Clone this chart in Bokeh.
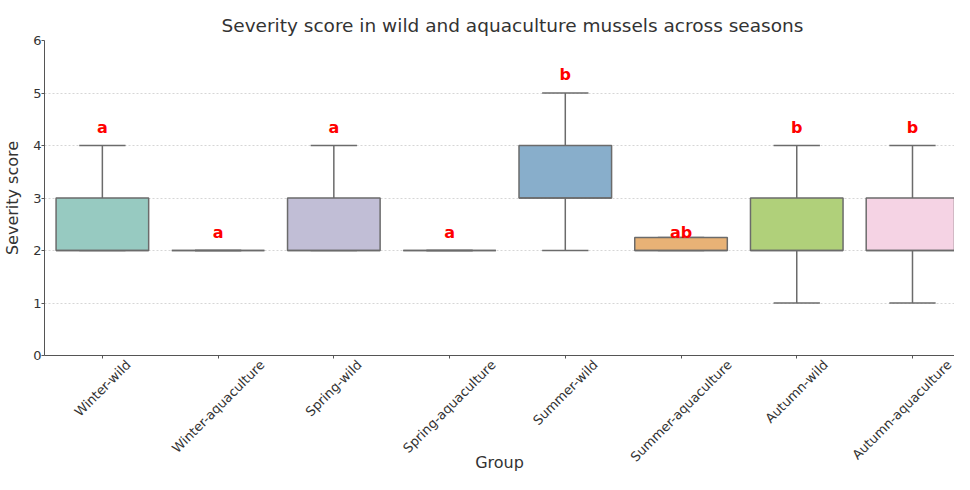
import math
from bokeh.plotting import figure
from bokeh.models import ColumnDataSource, FixedTicker, Range1d, LinearAxis
from bokeh.core.properties import value
from bokeh.embed import file_html
from bokeh.resources import INLINE

# ---- data ----
groups = ["Winter-wild", "Winter-aquaculture", "Spring-wild", "Spring-aquaculture",
          "Summer-wild", "Summer-aquaculture", "Autumn-wild", "Autumn-aquaculture"]
whisker_lo = [2, 2, 2, 2, 2, 2, 1, 1]
q1 = [2, 2, 2, 2, 3, 2, 2, 2]
median = [2, 2, 2, 2, 3, 2, 2, 2]
q3 = [3, 2, 3, 2, 4, 2.25, 3, 3]
whisker_hi = [4, 2, 4, 2, 5, 2.25, 4, 4]
letters = ["a", "a", "a", "a", "b", "ab", "b", "b"]
letter_y = [4.35, 2.35, 4.35, 2.35, 5.35, 2.35, 4.35, 4.35]
colors = ["#97cac1", "#f2f2c0", "#c1bed6", "#e58e84",
          "#88aecb", "#e8b276", "#b0d07a", "#f5d3e4"]
y_ticks = [0, 1, 2, 3, 4, 5, 6]

FONT = "DejaVu Sans"
EDGE = "#6b6b6b"
TXT = "#333333"
AX = "#555555"

# approximate DejaVu Sans advance widths (em), used to centre rotated labels on ticks
CW = {'A': .684, 'S': .635, 'W': .989, 'a': .613, 'c': .550, 'd': .635, 'e': .615,
      'g': .635, 'i': .278, 'l': .278, 'm': .974, 'n': .634, 'o': .612, 'p': .635,
      'q': .635, 'r': .411, 't': .392, 'u': .634, 'w': .818, '-': .361}
LBL_PX = 13

x = list(range(len(groups)))
box_w = 0.8
cap_w = 0.4
X_START, X_END = -0.5, 7.363
FRAME_W = 954 - 38
PX_PER_UNIT = FRAME_W / (X_END - X_START)

src = ColumnDataSource(dict(
    x=x, lo=whisker_lo, q1=q1, med=median, q3=q3, hi=whisker_hi, color=colors,
    bx0=[i - box_w / 2 for i in x], bx1=[i + box_w / 2 for i in x],
    cx0=[i - cap_w / 2 for i in x], cx1=[i + cap_w / 2 for i in x],
))

p = figure(width=954, height=474, x_range=Range1d(X_START, X_END), y_range=Range1d(0, 6),
           output_backend="svg", toolbar_location=None, x_axis_location=None,
           min_border_left=38, min_border_right=0, min_border_top=40, min_border_bottom=0,
           title="Severity score in wild and aquaculture mussels across seasons")
p.outline_line_color = None
p.background_fill_color = "white"
p.border_fill_color = "white"

p.title.text_font = FONT
p.title.text_font_size = "18.5px"
p.title.text_font_style = "normal"
p.title.text_color = TXT
p.title.align = "left"
p.title.offset = 177
p.title.standoff = 10

# grid
p.xgrid.visible = False
p.ygrid.grid_line_color = "#cccccc"
p.ygrid.grid_line_dash = "2 2"
p.ygrid.grid_line_width = 0.8

# y axis
p.yaxis.ticker = FixedTicker(ticks=y_ticks)
p.yaxis.minor_tick_line_color = None
p.yaxis.major_tick_out = 3
p.yaxis.major_tick_in = 0
p.yaxis.major_label_standoff = 0
p.yaxis.major_label_text_font = FONT
p.yaxis.major_label_text_font_size = "13px"
p.yaxis.major_label_text_color = TXT
p.yaxis.axis_line_color = AX
p.yaxis.major_tick_line_color = AX
p.yaxis.axis_label = "Severity score"
p.yaxis.axis_label_text_font = FONT
p.yaxis.axis_label_text_font_size = "16px"
p.yaxis.axis_label_text_font_style = "normal"
p.yaxis.axis_label_text_color = TXT
p.yaxis.axis_label_standoff = 8

# x axis line + ticks at each category
tick_axis = LinearAxis(ticker=FixedTicker(ticks=x),
                       major_label_overrides={i: "" for i in x},
                       major_label_text_font_size="0px", major_label_standoff=0,
                       major_tick_out=3, major_tick_in=0, minor_tick_line_color=None,
                       axis_line_color=AX, major_tick_line_color=AX)
p.add_layout(tick_axis, "below")

# rotated category labels, shifted so each rotated label is centred on its tick
def text_w(s):
    return sum(CW.get(c, 0.6) for c in s) * LBL_PX

label_pos = []
for i, g in zip(x, groups):
    pos = i + text_w(g) / (2 * math.sqrt(2)) / PX_PER_UNIT
    label_pos.append(min(pos, X_END - 0.002))

label_axis = LinearAxis(ticker=FixedTicker(ticks=label_pos),
                        major_label_overrides={pos: g for pos, g in zip(label_pos, groups)},
                        major_label_orientation=math.pi / 4,
                        major_label_standoff=4,
                        major_label_text_font=FONT, major_label_text_font_size=f"{LBL_PX}px",
                        major_label_text_color=TXT,
                        major_tick_out=0, major_tick_in=0,
                        major_tick_line_color=None, minor_tick_line_color=None,
                        axis_line_color=None,
                        axis_label="Group", axis_label_text_font=FONT,
                        axis_label_text_font_size="16px", axis_label_text_font_style="normal",
                        axis_label_text_color=TXT, axis_label_standoff=-20)
p.add_layout(label_axis, "below")

# whiskers
p.segment(x0="x", y0="q3", x1="x", y1="hi", source=src, line_color=EDGE, line_width=1.5)
p.segment(x0="x", y0="lo", x1="x", y1="q1", source=src, line_color=EDGE, line_width=1.5)
# caps
p.segment(x0="cx0", y0="hi", x1="cx1", y1="hi", source=src, line_color=EDGE, line_width=1.5)
p.segment(x0="cx0", y0="lo", x1="cx1", y1="lo", source=src, line_color=EDGE, line_width=1.5)
# boxes
p.vbar(x="x", width=box_w, bottom="q1", top="q3", source=src,
       fill_color="color", line_color=EDGE, line_width=1.5)
# medians
p.segment(x0="bx0", y0="med", x1="bx1", y1="med", source=src, line_color=EDGE, line_width=1.5)

# significance letters
lsrc = ColumnDataSource(dict(x=x, y=letter_y, t=letters))
p.text(x="x", y="y", text="t", source=lsrc, text_color="red",
       text_font=value(FONT), text_font_size="16px", text_font_style="bold",
       text_align="center", text_baseline="middle")

open("out.html", "w").write(file_html(p, INLINE))
